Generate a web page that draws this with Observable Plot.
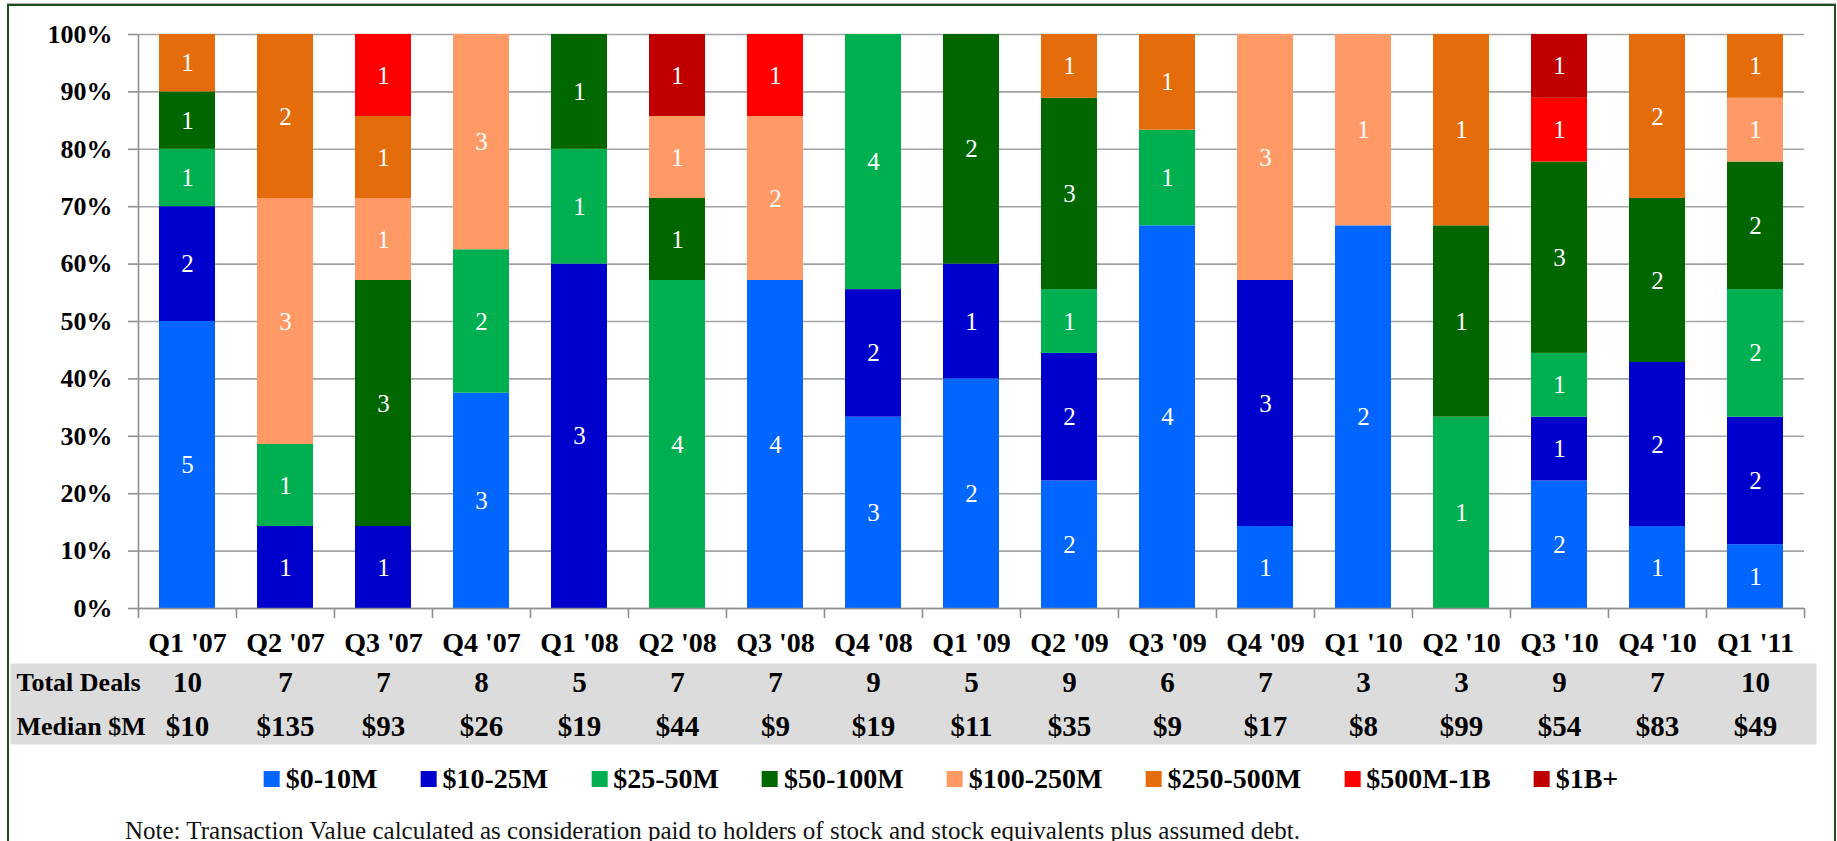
<!DOCTYPE html>
<html>
<head>
<meta charset="utf-8">
<script src="https://cdn.jsdelivr.net/npm/d3@7"></script>
<script src="https://cdn.jsdelivr.net/npm/@observablehq/plot@0.6"></script>
<style>
  html, body { margin: 0; padding: 0; background: #fff; }
  body { width: 1837px; height: 841px; overflow: hidden; position: relative; font-family: "Liberation Serif", serif; color: #000; }
  #frame { position: absolute; left: 7px; top: 4px; width: 1829px; height: 900px; border: 2px solid #1e4f1e; box-sizing: border-box; box-shadow: 0 -1px 0 #b0b0b0; pointer-events: none; }
  #chart { position: absolute; left: 0; top: 0; }
  #table { position: absolute; left: 0; top: 663px; }
  #legend { position: absolute; top: 763px; left: 941px; transform: translateX(-50%); display: flex; gap: 43px; white-space: nowrap; font-weight: bold; font-size: 28px; }
  #legend .item { display: flex; align-items: center; gap: 6px; }
  #legend .sw { width: 16px; height: 16px; display: inline-block; }
  #note { position: absolute; left: 125px; top: 817px; font-size: 25px; white-space: nowrap; color: #111; }
  svg { overflow: visible; }
  svg text { font-family: "Liberation Serif", serif; }
</style>
</head>
<body>
<div id="chart"></div>
<div id="table"></div>
<div id="legend"></div>
<div id="note">Note: Transaction Value calculated as consideration paid to holders of stock and stock equivalents plus assumed debt.</div>
<div id="frame"></div>
<script>
const quarters = ["Q1 '07","Q2 '07","Q3 '07","Q4 '07","Q1 '08","Q2 '08","Q3 '08","Q4 '08","Q1 '09","Q2 '09","Q3 '09","Q4 '09","Q1 '10","Q2 '10","Q3 '10","Q4 '10","Q1 '11"];
const sizeClasses = ["$0-10M","$10-25M","$25-50M","$50-100M","$100-250M","$250-500M","$500M-1B","$1B+"];
const classColors = ["#0066FF","#0000CC","#00B050","#006600","#FF9966","#E46C0A","#FF0000","#C00000"];
const deals0to10    = [5,0,0,3,0,0,4,3,2,2,4,1,2,0,2,1,1];
const deals10to25   = [2,1,1,0,3,0,0,2,1,2,0,3,0,0,1,2,2];
const deals25to50   = [1,1,0,2,1,4,0,4,0,1,1,0,0,1,1,0,2];
const deals50to100  = [1,0,3,0,1,1,0,0,2,3,0,0,0,1,3,2,2];
const deals100to250 = [0,3,1,3,0,1,2,0,0,0,0,3,1,0,0,0,1];
const deals250to500 = [1,2,1,0,0,0,0,0,0,1,1,0,0,1,0,2,1];
const deals500to1B  = [0,0,1,0,0,0,1,0,0,0,0,0,0,0,1,0,0];
const deals1Bplus   = [0,0,0,0,0,1,0,0,0,0,0,0,0,0,1,0,0];
const totalDeals  = [10,7,7,8,5,7,7,9,5,9,6,7,3,3,9,7,10];
const medianValue = [10,135,93,26,19,44,9,19,11,35,9,17,8,99,54,83,49];
const rowLabels = ["Total Deals","Median $M"];

const seriesCounts = [deals0to10, deals10to25, deals25to50, deals50to100, deals100to250, deals250to500, deals500to1B, deals1Bplus];
const data = [];
sizeClasses.forEach((cls, s) => quarters.forEach((q, i) => {
  const c = seriesCounts[s][i];
  if (c > 0) data.push({quarter: q, cls, count: c});
}));

const W = 1837;
const xRange = [137, 1804];
const pInner = 0.43, pOuter = 0.215;
const xScaleOpts = {domain: quarters, range: xRange, paddingInner: pInner, paddingOuter: pOuter};
const xs = Plot.scale({x: {type: "band", ...xScaleOpts}});
const step = xs.step || (xRange[1] - xRange[0]) / quarters.length;
const gray = "#8f8f8f";
const font = "Liberation Serif";

const chart = Plot.plot({
  width: W, height: 663,
  marginLeft: xRange[0], marginRight: W - xRange[1], marginTop: 34, marginBottom: 55,
  style: {fontFamily: font, background: "transparent", overflow: "visible"},
  x: {...xScaleOpts, label: null},
  y: {domain: [0, 1], label: null},
  color: {domain: sizeClasses, range: classColors},
  marks: [
    Plot.gridY({ticks: 10, stroke: "#a3a3a3", strokeOpacity: 1, strokeWidth: 1.6}),
    Plot.barY(data, {x: "quarter", y: "count", fill: "cls", order: sizeClasses, offset: "normalize"}),
    Plot.text(data, Plot.stackY({x: "quarter", y: "count", z: "cls", order: sizeClasses, offset: "normalize", text: "count", fill: "white", fontSize: 25, fontFamily: font})),
    Plot.ruleY([0], {stroke: gray, strokeWidth: 1.6}),
    Plot.ruleX([quarters[0]], {dx: -step / 2, stroke: gray, strokeWidth: 1.6}),
    Plot.axisY({ticks: 10, tickSize: 9, tickPadding: 16, tickFormat: ".0%", stroke: gray, strokeWidth: 1.6, strokeOpacity: 1, fill: "black", fontSize: 26, fontWeight: "bold", fontFamily: font, label: null}),
    Plot.axisX({tickSize: 10, tickFormat: () => "", dx: -step / 2, stroke: gray, strokeWidth: 1.6, strokeOpacity: 1, label: null}),
    Plot.axisX([quarters[quarters.length - 1]], {tickSize: 10, tickFormat: () => "", dx: step / 2, stroke: gray, strokeWidth: 1.6, strokeOpacity: 1, label: null}),
    Plot.axisX({tickSize: 0, tickPadding: 24, fill: "black", fontSize: 28, fontWeight: "bold", fontFamily: font, label: null})
  ]
});
document.getElementById("chart").append(chart);

const tableData = [];
quarters.forEach((q, i) => {
  tableData.push({quarter: q, row: rowLabels[0], text: String(totalDeals[i])});
  tableData.push({quarter: q, row: rowLabels[1], text: "$" + medianValue[i]});
});

const table = Plot.plot({
  width: W, height: 81,
  marginLeft: 10, marginRight: W - 1816, marginTop: 0, marginBottom: 0,
  style: {fontFamily: font, background: "transparent", overflow: "visible"},
  x: {type: "band", ...xScaleOpts, axis: null},
  y: {type: "point", domain: rowLabels, range: [19, 63], padding: 0, axis: null},
  marks: [
    Plot.frame({fill: "#dcdcdc", stroke: "none"}),
    Plot.text(tableData, {x: "quarter", y: "row", text: "text", fill: "black", fontSize: 29, fontWeight: "bold", fontFamily: font}),
    Plot.text(rowLabels, {y: d => d, text: d => d, frameAnchor: "left", textAnchor: "start", dx: 6, fill: "black", fontSize: 26, fontWeight: "bold", fontFamily: font})
  ]
});
document.getElementById("table").append(table);

const legend = document.getElementById("legend");
sizeClasses.forEach((cls, i) => {
  const item = document.createElement("div");
  item.className = "item";
  const sw = document.createElement("span");
  sw.className = "sw";
  sw.style.background = classColors[i];
  const t = document.createElement("span");
  t.textContent = cls;
  item.append(sw, t);
  legend.append(item);
});
</script>
</body>
</html>
